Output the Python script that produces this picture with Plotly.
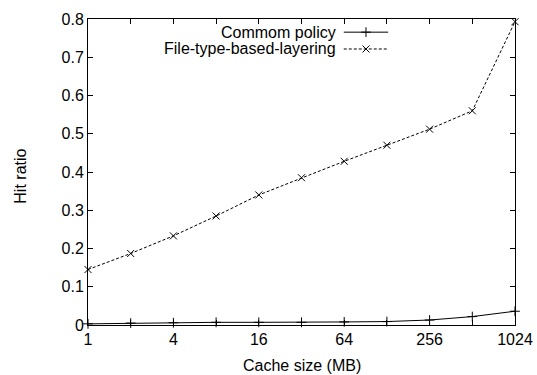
import plotly.graph_objects as go

# Cache sizes (MB) and hit ratios for the two caching policies
cache_mb = [1, 2, 4, 8, 16, 32, 64, 128, 256, 512, 1024]
common_policy = [0.003, 0.005, 0.006, 0.007, 0.007, 0.007, 0.008, 0.009, 0.013, 0.022, 0.036]
file_type_layering = [0.145, 0.187, 0.233, 0.285, 0.340, 0.385, 0.428, 0.470, 0.512, 0.560, 0.793]

x_tick_vals = [1, 2, 4, 8, 16, 32, 64, 128, 256, 512, 1024]
x_tick_text = ["1", "", "4", "", "16", "", "64", "", "256", "", "1024"]
series_names = ["Commom policy", "File-type-based-layering"]

FONT = "Liberation Sans, Arial, sans-serif"
FS = 16

fig = go.Figure()

fig.add_trace(go.Scatter(
    x=cache_mb, y=common_policy, mode="lines+markers", name=series_names[0],
    line=dict(color="black", width=1),
    marker=dict(symbol="cross-thin", size=7, line=dict(color="black", width=1)),
    showlegend=False, cliponaxis=False,
))
fig.add_trace(go.Scatter(
    x=cache_mb, y=file_type_layering, mode="lines+markers", name=series_names[1],
    line=dict(color="black", width=1, dash="3px,2px"),
    marker=dict(symbol="x-thin", size=7, line=dict(color="black", width=1)),
    showlegend=False, cliponaxis=False,
))

# Key in the top-right corner: label text right-aligned, then a line sample
key_rows = [(0.957, "solid", "cross-thin"), (0.902, "3px,2px", "x-thin")]
for (ky, dash, sym), name in zip(key_rows, series_names):
    fig.add_annotation(
        xref="paper", yref="paper", x=0.585, y=ky, text=name, showarrow=False,
        xanchor="right", yanchor="middle", font=dict(family=FONT, size=FS, color="black"),
    )
    fig.add_trace(go.Scatter(
        x=[0.599, 0.703], y=[ky, ky], xaxis="x2", yaxis="y2", mode="lines",
        line=dict(color="black", width=1, dash=dash), showlegend=False, hoverinfo="skip",
    ))
    fig.add_trace(go.Scatter(
        x=[0.651], y=[ky], xaxis="x2", yaxis="y2", mode="markers",
        marker=dict(symbol=sym, size=7, line=dict(color="black", width=1)),
        showlegend=False, hoverinfo="skip",
    ))

# Axis titles placed in the margins
fig.add_annotation(
    xref="paper", yref="paper", x=0.5, y=-0.131, text="Cache size (MB)", showarrow=False,
    xanchor="center", yanchor="middle", font=dict(family=FONT, size=FS, color="black"),
)
fig.add_annotation(
    xref="paper", yref="paper", x=-0.159, y=0.485, text="Hit ratio", showarrow=False,
    textangle=-90, xanchor="center", yanchor="middle",
    font=dict(family=FONT, size=FS, color="black"),
)

axis_common = dict(
    showgrid=False, zeroline=False, showline=True, linecolor="black", linewidth=1,
    mirror="ticks", ticks="inside", ticklen=5, tickcolor="black", tickwidth=1,
    tickfont=dict(family=FONT, size=FS, color="black"), automargin=False,
)

fig.update_layout(
    width=537, height=375,
    margin=dict(l=88, r=22, t=19, b=50),
    paper_bgcolor="white", plot_bgcolor="white",
    font=dict(family=FONT, size=FS, color="black"),
    xaxis=dict(
        type="log", range=[0, 3.0103], tickmode="array",
        tickvals=x_tick_vals, ticktext=x_tick_text,
        **axis_common,
    ),
    yaxis=dict(
        range=[0, 0.8], tickmode="linear", tick0=0, dtick=0.1,
        **axis_common,
    ),
    xaxis2=dict(overlaying="x", range=[0, 1], visible=False, fixedrange=True),
    yaxis2=dict(overlaying="y", range=[0, 1], visible=False, fixedrange=True),
)

fig.write_html("out.html")
